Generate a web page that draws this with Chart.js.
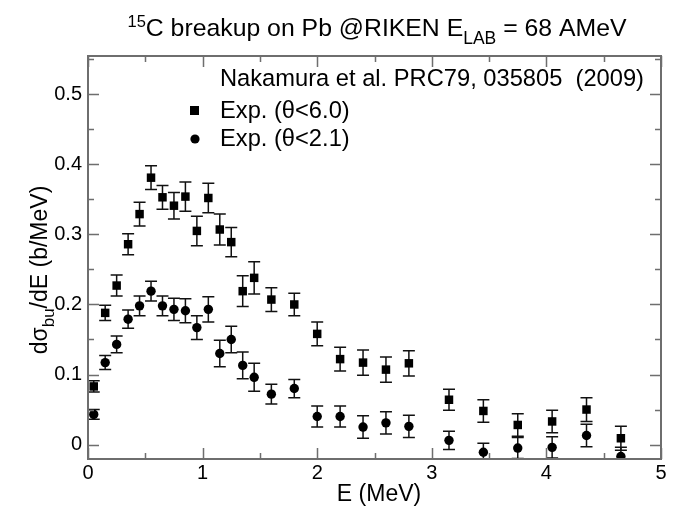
<!DOCTYPE html>
<html lang="en">

<head>
    <meta charset="UTF-8" />
    <title>15C breakup on Pb</title>
    <script src="https://cdn.jsdelivr.net/npm/chart.js"></script>
    <style>
        body { margin: 0; background: #fff; }
    </style>
</head>

<body>
    <canvas id="breakupChart" width="673" height="510"></canvas>

    <script>
        // Beam energy bins (MeV)
        const energies = [0.05, 0.15, 0.25, 0.35, 0.45, 0.55, 0.65, 0.75, 0.85, 0.95, 1.05, 1.15, 1.25, 1.35,
            1.45, 1.6, 1.8, 2.0, 2.2, 2.4, 2.6, 2.8, 3.15, 3.45, 3.75, 4.05, 4.35, 4.65];

        // Exp. (theta < 6.0)
        const wideVals = [0.083, 0.188, 0.227, 0.286, 0.329, 0.381, 0.353, 0.341, 0.354, 0.305, 0.352, 0.307, 0.289, 0.219,
            0.238, 0.207, 0.200, 0.158, 0.122, 0.117, 0.107, 0.116, 0.064, 0.048, 0.028, 0.033, 0.050, 0.009];
        const wideErrs = [0.008, 0.011, 0.015, 0.015, 0.017, 0.017, 0.017, 0.019, 0.021, 0.021, 0.021, 0.022, 0.021, 0.022,
            0.023, 0.017, 0.016, 0.017, 0.017, 0.018, 0.018, 0.018, 0.015, 0.016, 0.016, 0.016, 0.017, 0.017];

        // Exp. (theta < 2.1)
        const narrowVals = [0.043, 0.117, 0.143, 0.179, 0.198, 0.219, 0.198, 0.193, 0.191, 0.167, 0.193, 0.130, 0.150, 0.113,
            0.096, 0.072, 0.080, 0.040, 0.040, 0.025, 0.031, 0.026, 0.006, -0.011, -0.005, -0.004, 0.013, -0.017];
        const narrowErrs = [0.007, 0.010, 0.012, 0.013, 0.014, 0.014, 0.014, 0.016, 0.017, 0.017, 0.018, 0.019, 0.019, 0.019,
            0.020, 0.014, 0.013, 0.015, 0.015, 0.016, 0.016, 0.016, 0.013, 0.013, 0.015, 0.015, 0.016, 0.013];

        const xTicks = [0, 1, 2, 3, 4, 5];
        const yTicks = [0, 0.1, 0.2, 0.3, 0.4, 0.5];

        const FONT = '"Liberation Sans", Arial, sans-serif';

        function points(vals, errs) {
            return energies.map((e, i) => ({ x: e, y: vals[i], err: errs[i] }));
        }

        // text made of pieces [text, size, baseline offset]
        function richWidth(ctx, parts) {
            let w = 0;
            parts.forEach(([t, size]) => { ctx.font = size + 'px ' + FONT; w += ctx.measureText(t).width; });
            return w;
        }
        function drawRich(ctx, parts, x, y) {
            ctx.textAlign = 'left';
            parts.forEach(([t, size, off]) => {
                ctx.font = size + 'px ' + FONT;
                ctx.fillText(t, x, y + off);
                x += ctx.measureText(t).width;
            });
        }

        // error bars, drawn under the markers
        const errorBars = {
            id: 'errorBars',
            beforeDatasetsDraw(chart) {
                const ctx = chart.ctx;
                const xs = chart.scales.x, ys = chart.scales.y;
                const area = chart.chartArea;
                ctx.save();
                ctx.beginPath();
                ctx.rect(area.left, area.top, area.right - area.left, area.bottom - area.top);
                ctx.clip();
                ctx.strokeStyle = '#111';
                ctx.lineWidth = 1.5;
                chart.data.datasets.forEach(ds => {
                    ds.data.forEach(p => {
                        const px = xs.getPixelForValue(p.x);
                        const top = ys.getPixelForValue(p.y + p.err);
                        const bot = ys.getPixelForValue(p.y - p.err);
                        ctx.beginPath();
                        ctx.moveTo(px, top); ctx.lineTo(px, bot);
                        ctx.moveTo(px - 6, top); ctx.lineTo(px + 6, top);
                        ctx.moveTo(px - 6, bot); ctx.lineTo(px + 6, bot);
                        ctx.stroke();
                    });
                });
                ctx.restore();
            }
        };

        // frame, inward ticks, titles and legend
        const decorations = {
            id: 'decorations',
            afterDraw(chart) {
                const ctx = chart.ctx;
                const xs = chart.scales.x, ys = chart.scales.y;
                const a = chart.chartArea;
                ctx.save();
                ctx.strokeStyle = '#6e6e6e';
                ctx.lineWidth = 2;
                ctx.strokeRect(a.left, a.top, a.right - a.left, a.bottom - a.top);

                ctx.lineWidth = 1.5;
                ctx.beginPath();
                for (let v = 0; v <= 5.001; v += 0.5) {
                    const px = Math.round(xs.getPixelForValue(v)) + 0.5;
                    const len = Math.abs(v - Math.round(v)) < 1e-6 ? 11 : 6;
                    ctx.moveTo(px, a.bottom); ctx.lineTo(px, a.bottom - len);
                    ctx.moveTo(px, a.top); ctx.lineTo(px, a.top + len);
                }
                for (let v = 0; v <= 0.5501; v += 0.05) {
                    const py = Math.round(ys.getPixelForValue(v)) + 0.5;
                    const major = Math.abs(v * 10 - Math.round(v * 10)) < 1e-6;
                    const len = major ? 11 : 6;
                    ctx.moveTo(a.left, py); ctx.lineTo(a.left + len, py);
                    ctx.moveTo(a.right, py); ctx.lineTo(a.right - len, py);
                }
                ctx.stroke();

                ctx.fillStyle = '#000';
                ctx.textBaseline = 'alphabetic';

                // title with super/subscripts
                const title = [['15', 16.5, -9], ['C breakup on Pb @RIKEN E', 24.8, 0], ['LAB', 17.5, 8], [' = 68 AMeV', 24.8, 0]];
                drawRich(ctx, title, 377 - richWidth(ctx, title) / 2, 36);

                // x axis title
                ctx.font = '23px ' + FONT;
                ctx.textAlign = 'center';
                ctx.fillText('E (MeV)', 379, 501);

                // y axis title, rotated
                ctx.save();
                ctx.translate(47, 270);
                ctx.rotate(-Math.PI / 2);
                const yTitle = [['d\u03c3', 23, 0], ['bu', 17, 7], ['/dE (b/MeV)', 23, 0]];
                drawRich(ctx, yTitle, -richWidth(ctx, yTitle) / 2, 0);
                ctx.restore();

                // in-plot legend
                ctx.font = '23.7px ' + FONT;
                ctx.textAlign = 'left';
                ctx.fillText('Nakamura et al. PRC79, 035805  (2009)', 220, 86);
                ctx.fillText('Exp. (\u03b8<6.0)', 220, 118);
                ctx.fillText('Exp. (\u03b8<2.1)', 220, 146);
                ctx.fillRect(190, 106, 9, 9);
                ctx.beginPath();
                ctx.arc(195, 139, 4.6, 0, Math.PI * 2);
                ctx.fill();
                ctx.restore();
            }
        };

        const ctx = document.getElementById('breakupChart').getContext('2d');
        const chart = new Chart(ctx, {
            type: 'scatter',
            data: {
                datasets: [
                    {
                        label: 'Exp. (\u03b8<6.0)',
                        data: points(wideVals, wideErrs),
                        pointStyle: 'rect',
                        radius: 6,
                        backgroundColor: '#000',
                        borderColor: '#000',
                        borderWidth: 0,
                    },
                    {
                        label: 'Exp. (\u03b8<2.1)',
                        data: points(narrowVals, narrowErrs),
                        pointStyle: 'circle',
                        radius: 4.7,
                        backgroundColor: '#000',
                        borderColor: '#000',
                        borderWidth: 0,
                    },
                ],
            },
            options: {
                responsive: false,
                animation: false,
                layout: { padding: { left: 0, top: 56, right: 12, bottom: 0 } },
                plugins: {
                    legend: { display: false },
                    tooltip: { enabled: false },
                },
                scales: {
                    x: {
                        type: 'linear',
                        min: 0,
                        max: 5,
                        grid: { display: false, drawTicks: false },
                        border: { display: false },
                        afterBuildTicks: s => { s.ticks = xTicks.map(v => ({ value: v })); },
                        afterFit: s => { s.height = 51; },
                        ticks: {
                            padding: 2,
                            color: '#000',
                            font: { family: FONT, size: 20 },
                            callback: v => String(v),
                        },
                    },
                    y: {
                        type: 'linear',
                        min: -0.0206,
                        max: 0.5547,
                        grid: { display: false, drawTicks: false },
                        border: { display: false },
                        afterBuildTicks: s => { s.ticks = yTicks.map(v => ({ value: v })); },
                        afterFit: s => { s.width = 88; },
                        ticks: {
                            padding: 6,
                            color: '#000',
                            font: { family: FONT, size: 20 },
                            callback: v => (v === 0 ? '0' : v.toFixed(1)),
                        },
                    },
                },
            },
            plugins: [errorBars, decorations],
        });
    </script>
</body>

</html>
